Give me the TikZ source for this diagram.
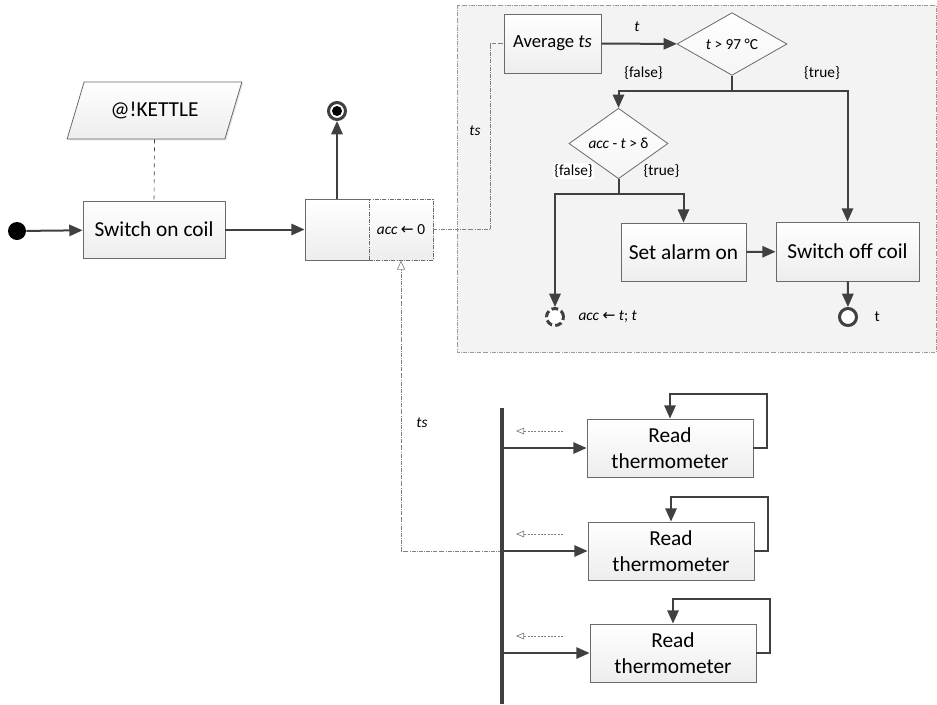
\documentclass[tikz,border=0pt]{standalone}
\usepackage{fontspec}
\setmainfont{Carlito}
\newfontfamily\arrowfont{DejaVu Sans}
\usetikzlibrary{arrows.meta,shapes.geometric,shadows}

\definecolor{linegray}{HTML}{404040}
\definecolor{edgegray}{HTML}{6A6A6A}
\definecolor{panelgray}{HTML}{F3F3F3}

\newcommand{\getsarrow}{{\arrowfont\fontsize{11.5}{13}\selectfont ←}}

\begin{document}
\begin{tikzpicture}[x=0.75pt,y=-0.75pt,
    box/.style={draw=edgegray, line width=0.6pt, top color=white, bottom color=gray!14,
        inner sep=2pt, align=center, font=\fontsize{16}{19.5}\selectfont,
        drop shadow={shadow xshift=1pt, shadow yshift=-1pt, opacity=0.2}},
    dec/.style={diamond, draw=edgegray, line width=0.6pt, top color=white, bottom color=gray!8,
        inner sep=0pt, font=\fontsize{11.5}{13}\selectfont},
    lbl/.style={inner sep=1pt, font=\fontsize{11.5}{13}\selectfont},
    flow/.style={draw=linegray, line width=1.5pt, -{Triangle[length=10pt,width=8.5pt]}},
    reply/.style={draw=gray, line width=0.5pt, dash pattern=on 1.5pt off 1pt,
        -{Triangle[open,length=6pt,width=5pt]}},
    ring/.style={circle, draw=linegray, fill=white, line width=2.25pt, minimum size=12.75pt, inner sep=0pt}]

\useasboundingbox (0,0) rectangle (937,704);

% the kettle body
\filldraw[fill=panelgray, draw=gray!80, densely dash dot, line width=0.5pt] (457,5) rectangle (936,352);

\node[circle, fill=black, minimum size=13.5pt, inner sep=0pt] (start) at (17,231) {};
\node[box, minimum width=106.5pt, minimum height=42.75pt] (son) at (154,229.5) {Switch on coil};
\node[box, trapezium, trapezium left angle=63, trapezium right angle=117, trapezium stretches,
    minimum width=131.25pt, minimum height=42.75pt] (kettle) at (154.5,110.5) {@!KETTLE};
\node[box, minimum width=48pt, minimum height=45.75pt] (act) at (337,229.5) {};
\node[box, densely dash dot, font=\fontsize{11.5}{13}\selectfont,
    minimum width=48pt, minimum height=45.75pt] (accbox) at (401,229.5) {\textit{acc} \getsarrow{} 0};
\node[ring] (fin) at (337,111) {};
\fill[black] (fin) circle[radius=3.75pt];

\draw[flow] (start) -- (son);
\draw[linegray, dashed, line width=0.5pt] (kettle.south) -- (son.north);
\draw[flow] (son) -- (act);
\draw[flow] (act.north) -- (fin.south);

\node[box, font=\fontsize{14}{17}\selectfont, minimum width=72.75pt, minimum height=44.25pt] (avg) at (552.5,43.5) {Average \textit{ts}};
\node[dec, minimum width=82.5pt, minimum height=43.5pt] (hot) at (732,44) {\textit{t} > 97 °C};
\node[dec, minimum width=74.25pt, minimum height=42.75pt] (jump) at (618.5,143.5) {\textit{acc} - \textit{t} > δ};
\node[box, minimum width=93.75pt, minimum height=43.5pt] (alarm) at (683.5,252) {Set alarm on};
\node[box, minimum width=107.25pt, minimum height=44.25pt] (soff) at (847.5,251.5) {Switch off coil};
\node[ring, dash pattern=on 5pt off 2.5pt] (again) at (555,317) {};
\node[ring] (done) at (848,317) {};

\draw[flow] (avg) -- (hot);
\draw[flow] (hot.south) -- ++(0,15) -| (jump.north);
\draw[flow] (hot.south) -- ++(0,15) -| (soff.north);
\draw[flow] (jump.south) -- ++(0,15) -| (again.north);
\draw[flow] (jump.south) -- ++(0,15) -| (alarm.north);
\draw[flow] (alarm) -- (soff);
\draw[flow] (soff) -- (done);

\node[lbl] at (637,27) {\textit{t}};
\node[lbl] at (643.5,73) {\{false\}};
\node[lbl] at (822,73) {\{true\}};
\node[lbl, fill=white] at (573.5,171) {\{false\}};
\node[lbl] at (661.5,171) {\{true\}};
\node[lbl, anchor=west] at (577,317) {\textit{acc} \getsarrow{} \textit{t}; \textit{t}};
\node[lbl, anchor=west] at (873,317) {t};

\draw[gray, densely dash dot, line width=0.5pt] (accbox.east) -- ++(57,0) |- (avg.west);
\node[lbl] at (475,131) {\textit{ts}};

% sensors
\foreach \i/\x/\y in {1/670/448, 2/671/551, 3/673/653} {
    \node[box, minimum width=124.5pt, minimum height=43.5pt] (rt\i) at (\x,\y) {Read\\thermometer};
    \coordinate (fork\i) at (502,\y);
    \coordinate (back\i) at (563,\y-17);
    \draw[flow] (fork\i) -- (rt\i);
    \draw[flow] (rt\i.east) -- ++(14,0) -- ++(0,-54) -| (rt\i.north);
    \draw[reply] (back\i) -- ++(-47,0);
}
\draw[gray, densely dash dot, line width=0.5pt, -{Triangle[open,length=7pt,width=6pt]}] (fork2) -| (accbox.south);
\node[lbl] at (422,423) {\textit{ts}};
\draw[linegray, line width=3pt] (502,408) coordinate (bartop) -- (502,704) coordinate (barbot);
\end{tikzpicture}
\end{document}
